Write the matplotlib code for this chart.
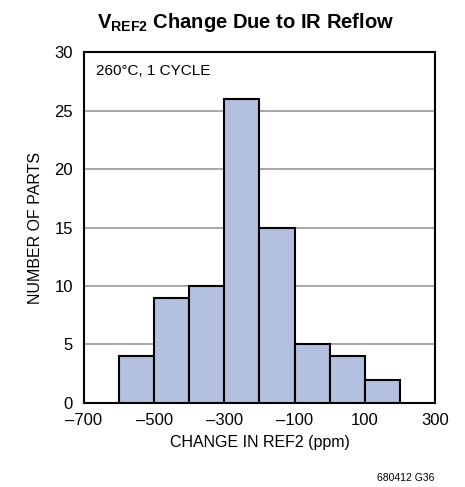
import matplotlib
matplotlib.use('Agg')
import matplotlib.pyplot as plt

# histogram bins (ppm) and counts
bin_edges = [-600, -500, -400, -300, -200, -100, 0, 100, 200]
counts = [4, 9, 10, 26, 15, 5, 4, 2]
xticks = [-700, -500, -300, -100, 100, 300]
yticks = [0, 5, 10, 15, 20, 25, 30]

plt.rcParams['font.family'] = ['Liberation Sans', 'DejaVu Sans']
plt.rcParams['mathtext.fontset'] = 'custom'
plt.rcParams['mathtext.bf'] = 'Liberation Sans:bold'
plt.rcParams['mathtext.rm'] = 'Liberation Sans'

fig = plt.figure(figsize=(4.65, 4.87), dpi=100)
ax = fig.add_axes([0.1806, 0.1725, 0.7548, 0.7207])

lefts = bin_edges[:-1]
widths = [bin_edges[i + 1] - bin_edges[i] for i in range(len(counts))]
ax.bar(lefts, counts, width=widths, align='edge', color='#b3c0e0',
       edgecolor='black', linewidth=1.5, zorder=3)

ax.set_xlim(-700, 300)
ax.set_ylim(0, 30)
ax.set_xticks(xticks)
ax.set_yticks(yticks)
ax.set_xticklabels(['\u2013' + str(-v) if v < 0 else str(v) for v in xticks])
ax.tick_params(length=0, labelsize=12)
ax.tick_params(axis='x', pad=7)
ax.tick_params(axis='y', pad=8)
ax.yaxis.grid(True, color='#999999', linewidth=1.2, zorder=0)
for s in ax.spines.values():
    s.set_linewidth(1.5)

ax.set_xlabel('CHANGE IN REF2 (ppm)', fontsize=11.5, labelpad=5)
ax.set_ylabel('NUMBER OF PARTS', fontsize=11.5, labelpad=8)
ax.text(0.035, 0.965, '260°C, 1 CYCLE', transform=ax.transAxes,
        fontsize=11, va='top', ha='left')

fig.text(0.527, 0.953, r'$\mathbf{V_{REF2}}$' + ' Change Due to IR Reflow',
         fontsize=14.5, fontweight='bold', ha='center', va='center')
fig.text(0.935, 0.008, '680412 G36', fontsize=7.5, ha='right', va='bottom')

fig.savefig('out.png', dpi=100)
